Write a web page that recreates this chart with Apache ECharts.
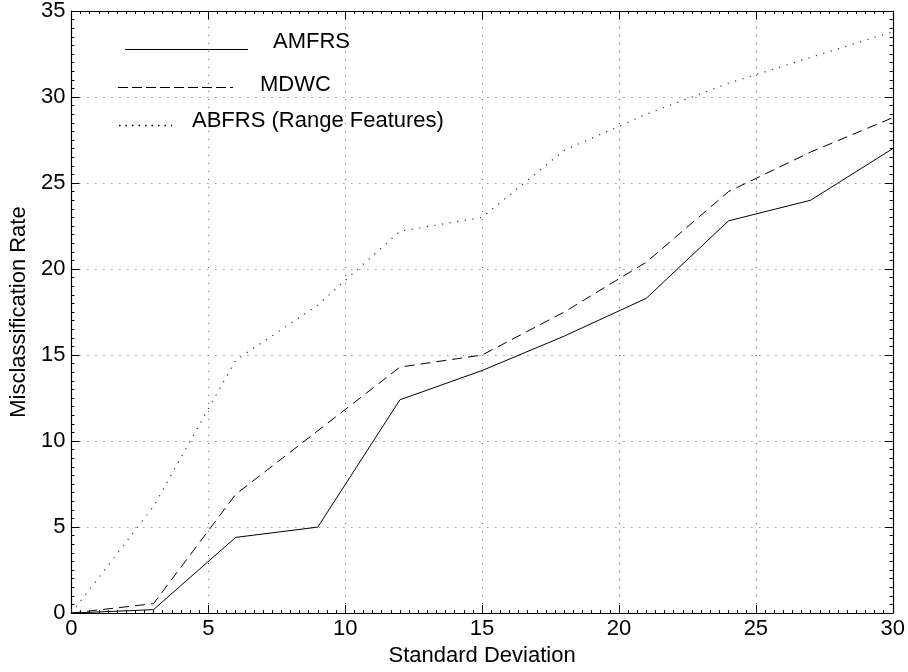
<!DOCTYPE html>
<html>
<head>
<meta charset="utf-8">
<script src="https://cdn.jsdelivr.net/npm/echarts@6/dist/echarts.min.js"></script>
<style>
html,body{margin:0;padding:0;background:#fff;overflow:hidden;}
#c{width:908px;height:672px;}
</style>
</head>
<body>
<div id="c"></div>
<script>
const stdDev = [0, 3, 6, 9, 12, 15, 18, 21, 24, 27, 30];
const amfrs = [0, 0.2, 4.4, 5.0, 12.4, 14.1, 16.1, 18.3, 22.8, 24.0, 27.0];
const mdwc = [0, 0.55, 6.9, 10.6, 14.3, 15.0, 17.5, 20.4, 24.5, 26.8, 28.8];
const abfrs = [0, 6.2, 14.7, 17.9, 22.2, 23.0, 26.9, 29.0, 30.8, 32.3, 33.8];
const seriesNames = ['AMFRS', 'MDWC', 'ABFRS (Range Features)'];
const xTicks = [0, 5, 10, 15, 20, 25, 30];
const yTicks = [0, 5, 10, 15, 20, 25, 30, 35];

const FONT = "'Liberation Sans', Arial, Helvetica, sans-serif";
const FS = 22;
const pairs = ys => stdDev.map((x, i) => [x, ys[i]]);

const chart = echarts.init(document.getElementById('c'), null, {renderer: 'canvas'});
const gridLeft = 66, gridRight = 14, gridTop = 10, gridBottom = 52;

const baseAxis = {
  type: 'value',
  axisLine: {show: true, onZero: false, lineStyle: {color: '#000', width: 1.2}},
  axisTick: {show: true, inside: true, length: 8, lineStyle: {color: '#000', width: 1}},
};

const option = {
  backgroundColor: '#fff',
  animation: false,
  grid: {left: gridLeft, right: gridRight, top: gridTop, bottom: gridBottom, containLabel: false},
  xAxis: [
    Object.assign({}, baseAxis, {
      position: 'bottom', min: xTicks[0], max: xTicks[xTicks.length - 1], interval: 5,
      minorTick: {show: true, splitNumber: 15, length: 3, lineStyle: {color: '#000'}},
      name: 'Standard Deviation', nameLocation: 'middle', nameGap: 27,
      nameTextStyle: {fontFamily: FONT, fontSize: FS, color: '#000'},
      axisLabel: {fontFamily: FONT, fontSize: FS, color: '#000', margin: 5},
      splitLine: {show: true, lineStyle: {color: '#666', width: 1, type: [1, 7]}}
    }),
    Object.assign({}, baseAxis, {
      position: 'top', min: xTicks[0], max: xTicks[xTicks.length - 1], interval: 5,
      minorTick: {show: true, splitNumber: 15, length: 3, lineStyle: {color: '#000'}},
      axisLabel: {show: false}, splitLine: {show: false}
    })
  ],
  yAxis: [
    Object.assign({}, baseAxis, {
      position: 'left', min: yTicks[0], max: yTicks[yTicks.length - 1], interval: 5,
      minorTick: {show: true, splitNumber: 10, length: 3, lineStyle: {color: '#000'}},
      name: 'Misclassification Rate', nameLocation: 'middle', nameGap: 40, nameRotate: 90,
      nameTextStyle: {fontFamily: FONT, fontSize: FS, color: '#000'},
      axisLabel: {fontFamily: FONT, fontSize: FS, color: '#000', margin: 6},
      splitLine: {show: true, lineStyle: {color: '#666', width: 1, type: [1, 7]}}
    }),
    Object.assign({}, baseAxis, {
      position: 'right', min: yTicks[0], max: yTicks[yTicks.length - 1], interval: 5,
      minorTick: {show: true, splitNumber: 10, length: 3, lineStyle: {color: '#000'}},
      axisLabel: {show: false}, splitLine: {show: false}
    })
  ],
  series: [
    {name: seriesNames[0], type: 'line', data: pairs(amfrs), showSymbol: false, symbol: 'none',
     lineStyle: {color: '#000', width: 1, type: 'solid'}, z: 5},
    {name: seriesNames[1], type: 'line', data: pairs(mdwc), showSymbol: false, symbol: 'none',
     lineStyle: {color: '#000', width: 1, type: [10, 6]}, z: 5},
    {name: seriesNames[2], type: 'line', data: pairs(abfrs), showSymbol: false, symbol: 'none',
     lineStyle: {color: '#333', width: 1.2, type: [1.2, 6.5]}, z: 5}
  ],
  graphic: [
    {type: 'line', shape: {x1: 125, y1: 49.5, x2: 248, y2: 49.5}, style: {stroke: '#000', lineWidth: 1}},
    {type: 'text', left: 273, top: 31, style: {text: seriesNames[0], font: FS + 'px ' + FONT, fill: '#000'}},
    {type: 'line', shape: {x1: 118, y1: 87.5, x2: 233, y2: 87.5}, style: {stroke: '#000', lineWidth: 1, lineDash: [10, 4]}},
    {type: 'text', left: 260, top: 74, style: {text: seriesNames[1], font: FS + 'px ' + FONT, fill: '#000'}},
    {type: 'line', shape: {x1: 119, y1: 125.5, x2: 172, y2: 125.5}, style: {stroke: '#000', lineWidth: 1.5, lineDash: [1.5, 5]}},
    {type: 'text', left: 192, top: 110, style: {text: seriesNames[2], font: FS + 'px ' + FONT, fill: '#000'}}
  ]
};
chart.setOption(option);
</script>
</body>
</html>
